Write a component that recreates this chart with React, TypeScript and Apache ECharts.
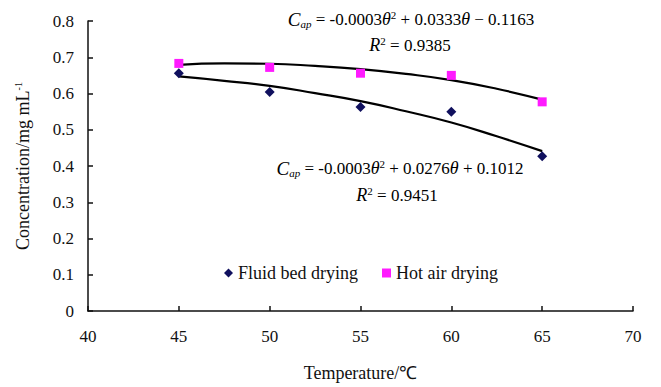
import React, { useEffect, useRef } from "react";
import * as echarts from "echarts";

const temperatures = [45, 50, 55, 60, 65];
const fluidBed = [0.656, 0.604, 0.563, 0.55, 0.427];
const hotAir = [0.683, 0.672, 0.656, 0.65, 0.577];

const trendX = [45, 47.5, 50, 52.5, 55, 57.5, 60, 62.5, 65];
const fluidTrend = [0.647, 0.635, 0.621, 0.601, 0.579, 0.551, 0.52, 0.482, 0.441];
const hotTrend = [0.679, 0.683, 0.682, 0.676, 0.667, 0.654, 0.637, 0.613, 0.583];

const xTicks = { min: 40, max: 70, interval: 5 };
const yTicks = { min: 0, max: 0.8, interval: 0.1 };

const FONT = "'Liberation Serif', 'Times New Roman', serif";

const eqRich = {
  n: { fontFamily: FONT, fontSize: 17, color: "#111" },
  c: { fontFamily: FONT, fontSize: 19, fontStyle: "italic", color: "#111" },
  sub: { fontFamily: FONT, fontSize: 11, fontStyle: "italic", color: "#111", padding: [9, 0, 0, 0] },
  th: { fontFamily: FONT, fontSize: 18, fontStyle: "italic", color: "#111" },
  sup: { fontFamily: FONT, fontSize: 11, color: "#111", padding: [0, 0, 9, 0] },
  r: { fontFamily: FONT, fontSize: 18, fontStyle: "italic", color: "#111" },
};

function eqText(a: string, b: string, c: string) {
  return `{c|C}{sub|ap}{n| = ${a}}{th|θ}{sup|2}{n| ${b}}{th|θ}{n| ${c}}`;
}

export default function App() {
  const ref = useRef<HTMLDivElement>(null);
  useEffect(() => {
    document.body.style.margin = "0";
    if (!ref.current) return;
    const chart = echarts.init(ref.current, null, { renderer: "svg" });
    chart.setOption({
      animation: false,
      backgroundColor: "#fff",
      textStyle: { fontFamily: FONT },
      grid: { left: 88, right: 28, top: 21, bottom: 72 },
      legend: {
        data: [
          { name: "Fluid bed drying", icon: "diamond" },
          { name: "Hot air drying", icon: "rect" },
        ],
        left: 219,
        top: 259,
        itemWidth: 9,
        itemHeight: 9,
        itemGap: 24,
        textStyle: { fontFamily: FONT, fontSize: 18, color: "#111" },
      },
      xAxis: {
        type: "value",
        min: xTicks.min,
        max: xTicks.max,
        interval: xTicks.interval,
        name: "Temperature/℃",
        nameLocation: "middle",
        nameGap: 53,
        nameTextStyle: { fontFamily: FONT, fontSize: 18, color: "#111" },
        axisLine: { lineStyle: { color: "#111", width: 1.5 } },
        axisTick: { inside: true, length: 5, lineStyle: { color: "#111", width: 1.5 } },
        axisLabel: { fontFamily: FONT, fontSize: 17, color: "#111", margin: 17 },
        splitLine: { show: false },
      },
      yAxis: {
        type: "value",
        min: yTicks.min,
        max: yTicks.max,
        interval: yTicks.interval,
        name: "Concentration/mg mL{sup|-1}",
        nameLocation: "middle",
        nameGap: 56,
        nameRotate: 90,
        nameTextStyle: {
          fontFamily: FONT,
          fontSize: 18,
          color: "#111",
          rich: { sup: { fontFamily: FONT, fontSize: 10, color: "#111", padding: [0, 0, 9, 0] } },
        },
        axisLine: { show: true, lineStyle: { color: "#111", width: 1.5 } },
        axisTick: { show: true, inside: true, length: 5, lineStyle: { color: "#111", width: 1.5 } },
        axisLabel: {
          fontFamily: FONT,
          fontSize: 17,
          color: "#111",
          margin: 14,
          formatter: (v: number) => (v === 0 ? "0" : v.toFixed(1)),
        },
        splitLine: { show: false },
      },
      series: [
        {
          name: "Fluid trend",
          type: "line",
          data: trendX.map((x, i) => [x, fluidTrend[i]]),
          smooth: true,
          showSymbol: false,
          lineStyle: { color: "#000", width: 2.2 },
          z: 1,
        },
        {
          name: "Hot trend",
          type: "line",
          data: trendX.map((x, i) => [x, hotTrend[i]]),
          smooth: true,
          showSymbol: false,
          lineStyle: { color: "#000", width: 2.2 },
          z: 1,
        },
        {
          name: "Fluid bed drying",
          type: "scatter",
          symbol: "diamond",
          symbolSize: 10,
          itemStyle: { color: "#10105e", opacity: 1 },
          data: temperatures.map((x, i) => [x, fluidBed[i]]),
          z: 3,
        },
        {
          name: "Hot air drying",
          type: "scatter",
          symbol: "rect",
          symbolSize: 9,
          itemStyle: { color: "#ff1aff", opacity: 1 },
          data: temperatures.map((x, i) => [x, hotAir[i]]),
          z: 3,
        },
      ],
      graphic: [
        {
          type: "text",
          x: 411,
          y: 19,
          style: {
            text: eqText("-0.0003", "+ 0.0333", "− 0.1163"),
            rich: eqRich,
            align: "center",
            verticalAlign: "middle",
          },
        },
        {
          type: "text",
          x: 410,
          y: 45,
          style: {
            text: "{r|R}{sup|2}{n| = 0.9385}",
            rich: eqRich,
            align: "center",
            verticalAlign: "middle",
          },
        },
        {
          type: "text",
          x: 400,
          y: 168,
          style: {
            text: eqText("-0.0003", "+ 0.0276", "+ 0.1012"),
            rich: eqRich,
            align: "center",
            verticalAlign: "middle",
          },
        },
        {
          type: "text",
          x: 397,
          y: 195,
          style: {
            text: "{r|R}{sup|2}{n| = 0.9451}",
            rich: eqRich,
            align: "center",
            verticalAlign: "middle",
          },
        },
      ],
    });
    return () => chart.dispose();
  }, []);
  return <div ref={ref} style={{ width: 661, height: 387 }} />;
}
